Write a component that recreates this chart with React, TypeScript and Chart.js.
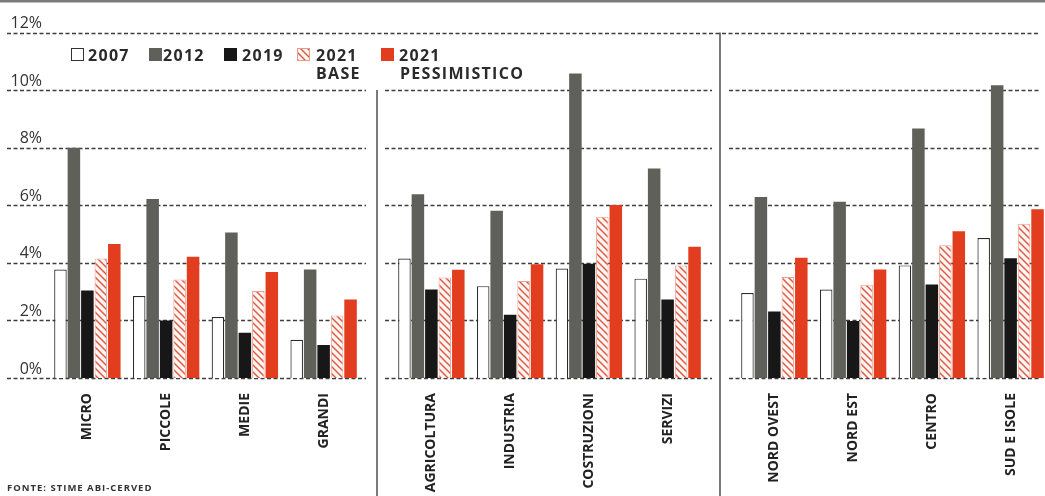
import React, { useEffect, useRef } from "react";
import { Chart, registerables } from "chart.js";

Chart.register(...registerables);

// ---- DATA ----
const sizeLabels = ["MICRO", "PICCOLE", "MEDIE", "GRANDI"];
const sectorLabels = ["AGRICOLTURA", "INDUSTRIA", "COSTRUZIONI", "SERVIZI"];
const areaLabels = ["NORD OVEST", "NORD EST", "CENTRO", "SUD E ISOLE"];

// 12 values each: 4 size classes, 4 sectors, 4 areas
const v2007 = [3.77, 2.85, 2.12, 1.33, 4.15, 3.19, 3.8, 3.45, 2.95, 3.07, 3.91, 4.86];
const v2012 = [8.0, 6.22, 5.05, 3.77, 6.38, 5.81, 10.58, 7.28, 6.29, 6.12, 8.67, 10.17];
const v2019 = [3.04, 2.0, 1.57, 1.15, 3.07, 2.2, 3.97, 2.73, 2.31, 1.98, 3.25, 4.16];
const v2021base = [4.15, 3.42, 3.02, 2.17, 3.49, 3.37, 5.6, 3.91, 3.51, 3.24, 4.61, 5.36];
const v2021pess = [4.65, 4.21, 3.68, 2.73, 3.76, 3.95, 6.01, 4.56, 4.18, 3.77, 5.1, 5.86];

const yTicks = [0, 2, 4, 6, 8, 10, 12];
const legendLines = [["2007"], ["2012"], ["2019"], ["2021", "BASE"], ["2021", "PESSIMISTICO"]];
const sourceText = "FONTE: STIME ABI-CERVED";

// ---- STYLE ----
const WHITE = "#ffffff";
const GRAY = "#60605b";
const BLACK = "#171717";
const RED = "#e23d1f";
const HATCH_RED = "#e0553f";
const INK = "#2a2a2a";

function makeHatch(): CanvasPattern | string {
  const c = document.createElement("canvas");
  c.width = 7;
  c.height = 7;
  const g = c.getContext("2d");
  if (!g) return HATCH_RED;
  g.fillStyle = "#fff6f3";
  g.fillRect(0, 0, 7, 7);
  g.strokeStyle = HATCH_RED;
  g.lineWidth = 1.4;
  g.beginPath();
  g.moveTo(-1, -1);
  g.lineTo(8, 8);
  g.moveTo(-1, 6);
  g.lineTo(1, 8);
  g.moveTo(6, -1);
  g.lineTo(8, 1);
  g.stroke();
  return g.createPattern(c, "repeat") || HATCH_RED;
}

function buildDatasets(from: number, to: number, hatch: any) {
  return [
    { label: "2007", data: v2007.slice(from, to), backgroundColor: WHITE, borderColor: "#2b2b2b", borderWidth: 1.2 },
    { label: "2012", data: v2012.slice(from, to), backgroundColor: GRAY, borderWidth: 0 },
    { label: "2019", data: v2019.slice(from, to), backgroundColor: BLACK, borderWidth: 0 },
    { label: "2021 BASE", data: v2021base.slice(from, to), backgroundColor: hatch, borderColor: "#eea08f", borderWidth: 1 },
    { label: "2021 PESSIMISTICO", data: v2021pess.slice(from, to), backgroundColor: RED, borderWidth: 0 },
  ];
}

const decorPlugin = {
  id: "decor",
  beforeDatasetsDraw(chart: any) {
    const ctx = chart.ctx as CanvasRenderingContext2D;
    const y = chart.scales.y;
    ctx.save();
    ctx.strokeStyle = "#3d3d3d";
    ctx.lineWidth = 1.5;
    ctx.setLineDash([4, 2.5]);
    for (const v of yTicks) {
      const py = Math.round(y.getPixelForValue(v)) + 0.5;
      const segs = v === 12 ? [[7, 1040]] : [[7, 366], [385, 712], [729, 1040]];
      for (const [a, b] of segs) {
        ctx.beginPath();
        ctx.moveTo(a, py);
        ctx.lineTo(b, py);
        ctx.stroke();
      }
    }
    ctx.restore();
  },
  afterDraw(chart: any) {
    const ctx = chart.ctx as CanvasRenderingContext2D;
    const y = chart.scales.y;
    const hatch = chart.options.plugins.decor.hatch;
    ctx.save();
    // top rule
    ctx.fillStyle = "#7a7a7a";
    ctx.fillRect(0, 0, 1045, 2.5);
    // separators
    ctx.strokeStyle = "#333";
    ctx.lineWidth = 1.3;
    ctx.beginPath();
    ctx.moveTo(377, y.getPixelForValue(10));
    ctx.lineTo(377, 496);
    ctx.moveTo(720, y.getPixelForValue(12));
    ctx.lineTo(720, 496);
    ctx.stroke();

    // legend
    const boxes = [
      { bx: 71, tx: 88, fill: WHITE, stroke: "#333" },
      { bx: 149, tx: 163, fill: GRAY, stroke: null },
      { bx: 224, tx: 242, fill: BLACK, stroke: null },
      { bx: 297, tx: 316, fill: hatch, stroke: "#e89a88" },
      { bx: 381, tx: 399, fill: RED, stroke: null },
    ];
    ctx.font = 'bold 16px "Open Sans"';
    (ctx as any).letterSpacing = "1.3px";
    ctx.textBaseline = "alphabetic";
    boxes.forEach((b, i) => {
      ctx.fillStyle = b.fill as any;
      ctx.fillRect(b.bx, 48, 13, 13);
      if (b.stroke) {
        ctx.strokeStyle = b.stroke;
        ctx.lineWidth = 1;
        ctx.strokeRect(b.bx + 0.5, 48.5, 12, 12);
      }
      ctx.fillStyle = INK;
      const lines = legendLines[i];
      ctx.textAlign = "left";
      ctx.fillText(lines[0], b.tx, 60.5);
      if (lines[1]) {
        if (lines[1].length <= 4) {
          const w = ctx.measureText(lines[0]).width;
          ctx.textAlign = "right";
          ctx.fillText(lines[1], b.tx + w + 3, 78.5);
        } else {
          ctx.textAlign = "left";
          ctx.fillText(lines[1], b.tx + 1, 78.5);
        }
      }
    });

    // source
    ctx.font = 'bold 9.5px "Open Sans"';
    (ctx as any).letterSpacing = "1px";
    ctx.textAlign = "left";
    ctx.fillStyle = "#333";
    ctx.fillText(sourceText, 7, 491);
    ctx.restore();
  },
};

function makeConfig(labels: string[], from: number, padLeft: number, padRight: number, showY: boolean, hatch: any, plugins: any[]) {
  return {
    type: "bar" as const,
    data: { labels, datasets: buildDatasets(from, from + 4, hatch) },
    plugins,
    options: {
      responsive: false,
      animation: false as const,
      layout: { padding: { left: padLeft, right: padRight, top: 32.5, bottom: 0 } },
      datasets: { bar: { categoryPercentage: 0.855, barPercentage: 0.93 } },
      plugins: {
        legend: { display: false },
        tooltip: { enabled: false },
        decor: { hatch },
      },
      scales: {
        x: {
          grid: { display: false },
          border: { display: false },
          ticks: {
            autoSkip: false,
            minRotation: 90,
            maxRotation: 90,
            padding: 7,
            color: "#222",
            font: { family: '"Open Sans"', size: 14, weight: "bold" },
          },
          afterFit: (s: any) => {
            s.height = 118;
          },
        },
        y: {
          display: showY,
          min: 0,
          max: 12,
          grid: { display: false, drawTicks: false },
          border: { display: false },
          ticks: {
            stepSize: 2,
            padding: 6,
            labelOffset: -9,
            color: "#333",
            font: { family: '"Open Sans"', size: 16 },
            callback: (v: any) => v + "%",
          },
          afterFit: (s: any) => {
            s.width = showY ? 48 : 0;
          },
        },
      },
    },
  };
}

export default function App() {
  const c1 = useRef<HTMLCanvasElement>(null);
  const c2 = useRef<HTMLCanvasElement>(null);
  const c3 = useRef<HTMLCanvasElement>(null);

  useEffect(() => {
    const hatch = makeHatch();
    const charts: Chart[] = [];
    if (c1.current) charts.push(new Chart(c1.current, makeConfig(sizeLabels, 0, 0, 1050 - 363, true, hatch, [decorPlugin]) as any));
    if (c2.current) charts.push(new Chart(c2.current, makeConfig(sectorLabels, 4, 392, 1050 - 707, false, hatch, []) as any));
    if (c3.current) charts.push(new Chart(c3.current, makeConfig(areaLabels, 8, 735, 0, false, hatch, []) as any));
    return () => charts.forEach((c) => c.destroy());
  }, []);

  const cs: React.CSSProperties = { position: "absolute", left: 0, top: 0 };
  return (
    <div style={{ position: "fixed", left: 0, top: 0, width: 1045, height: 496, overflow: "hidden", background: "#fff" }}>
      <canvas ref={c1} width={1050} height={496} style={cs} />
      <canvas ref={c2} width={1050} height={496} style={cs} />
      <canvas ref={c3} width={1050} height={496} style={cs} />
    </div>
  );
}
